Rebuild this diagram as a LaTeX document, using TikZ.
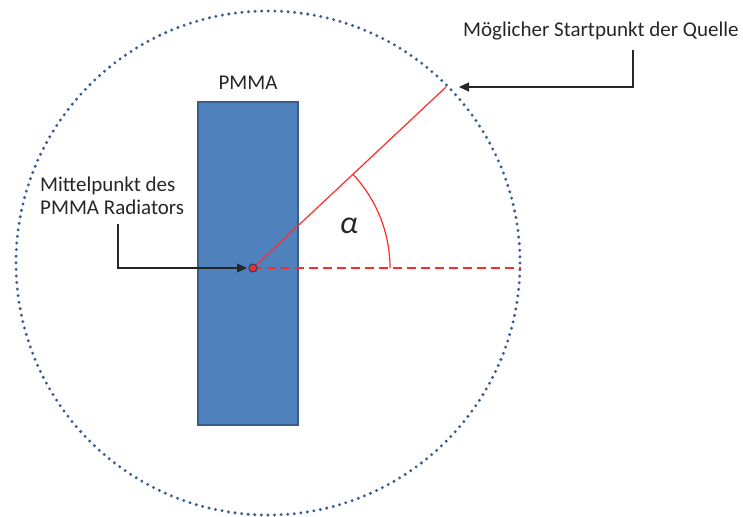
\documentclass[tikz,border=0pt]{standalone}
\usepackage{fontspec}
\setmainfont{Carlito}
\usetikzlibrary{arrows.meta,positioning}
\definecolor{pmmablau}{HTML}{4F81BD}
\definecolor{pmmarand}{HTML}{385D8A}
\definecolor{kreisblau}{HTML}{3A5E92}
\definecolor{strahlrot}{HTML}{FF2A2A}
\tikzset{
  pfeil/.style={draw=black!85,line width=1.1pt,-{Triangle[length=10pt,width=9pt]}},
  beschr/.style={font=\fontsize{21}{23}\selectfont,text=black!85,inner sep=0pt},
}
\begin{document}
\begin{tikzpicture}[x=1pt,y=-1pt]
  \useasboundingbox (0,0) rectangle (743,516);
  \coordinate (O) at (268,263);
  \coordinate (C) at (253,268);
  \coordinate (S) at (446,87);
  \coordinate (R) at (521,268);
  % Kreis der moeglichen Startpunkte
  \draw[kreisblau,line width=3.3pt,line cap=round,dash pattern=on 0pt off 6.6pt] (O) circle[radius=252];
  % PMMA Radiator
  \node[draw=pmmarand,fill=pmmablau,line width=2pt,minimum width=100pt,minimum height=323pt,inner sep=0pt] (pmma) at (248,263.5) {};
  \node[beschr,above=11pt of pmma.north] (pmmatext) {PMMA};
  % Strahl und Winkel
  \draw[strahlrot,line width=1.2pt] (C) -- (S);
  \draw[strahlrot,line width=1.4pt,dash pattern=on 9pt off 5pt] (C) -- (R);
  \draw[strahlrot,line width=1.2pt] ([shift={(0:137)}]C) arc[start angle=0,end angle=-43,radius=137];
  \node[font=\fontsize{32}{34}\selectfont\itshape,text=black!85] (alpha) at (349,226) {α};
  \fill[strahlrot,draw=pmmarand!80!black,line width=1.3pt] (C) circle[radius=4];
  % Beschriftungen
  \node[beschr,anchor=west] (quelle) at (463,31) {Möglicher Startpunkt der Quelle};
  \node[beschr,align=left,anchor=north west] (mittel) at (40,177) {Mittelpunkt des\\PMMA Radiators};
  \coordinate (qknick) at (633,87);
  \coordinate (qende) at (459,87);
  \coordinate (mknick) at (118,268);
  \coordinate (mende) at (247,268);
  \draw[pfeil] (quelle.south -| qknick) ++(0,10) -- (qknick) -- (qende);
  \draw[pfeil] (mittel.south -| mknick) ++(0,9) -- (mknick) -- (mende);
\end{tikzpicture}
\end{document}
